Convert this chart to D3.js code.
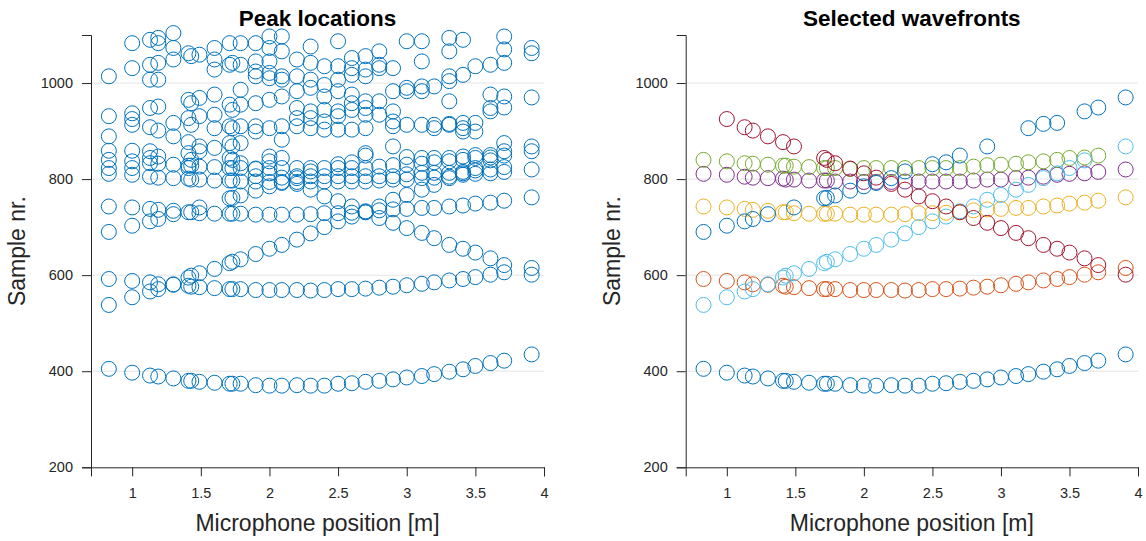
<!DOCTYPE html>
<html>
<head>
<meta charset="utf-8">
<script src="https://cdn.jsdelivr.net/npm/d3@7"></script>
<style>
  body { margin: 0; background: #fff; }
  svg { display: block; font-family: "Liberation Sans", Arial, sans-serif; }
</style>
</head>
<body>
<svg id="chart" width="1146" height="541"></svg>
<script>
// microphone positions [m]
const micPos = [0.83, 1.0, 1.13, 1.19, 1.3, 1.41, 1.43, 1.49, 1.6, 1.71, 1.73, 1.79, 1.9, 2.0, 2.09, 2.2,
  2.3, 2.4, 2.5, 2.6, 2.7, 2.8, 2.9, 3.0, 3.11, 3.2, 3.31, 3.41, 3.5, 3.61, 3.71, 3.91];

// selected wavefronts (sample nr. per microphone, null = no peak)
const wfBlue = [405, 397, 391, 389, 385, 380, 380, 378, 376, 374, 374, 374, 371, 370, 370, 371,
  370, 370, 374, 375, 378, 380, 383, 387, 390, 394, 399, 404, 411, 417, 422, 435];
const wfOrange = [592, 588, 585, 581, 580, 578, 576, 575, 573, 571, 571, 571, 569, 569, 569, 569,
  568, 569, 571, 571, 572, 574, 576, 579, 582, 585, 589, 592, 596, 601, 606, 615];
const wfYellow = [743, 741, 738, 736, 734, 731, 731, 729, 728, 728, 728, 728, 726, 726, 726, 726,
  727, 729, 729, 730, 731, 735, 737, 738, 740, 740, 743, 745, 749, 751, 755, 762];
const wfPurple = [811, 809, 805, 803, 802, 801, 799, 799, 797, 797, 797, 795, 795, 794, 794, 794,
  795, 795, 795, 795, 795, 797, 799, 799, 802, 803, 805, 809, 811, 812, 815, 820];
const wfGreen = [840, 837, 833, 832, 830, 828, 828, 826, 825, 823, 823, 823, 821, 823, 823, 823,
  823, 823, 823, 823, 823, 826, 829, 830, 832, 835, 837, 840, 844, 845, 849, null];
const wfLightBlue = [538, 554, 566, 571, 581, 595, 599, 604, 613, 625, 628, 633, 644, 655, 663, 674,
  687, 700, 712, 722, 733, 743, 757, 767, 778, 788, 802, 812, 823, 839, null, 868];
const wfRed = [null, 925, 908, 901, 889, 877, null, 868, null, 844, 840, 833, 822, 812, 803, 790,
  778, 764, 754, 743, 731, 719, 709, 698, 688, 677, 663, 655, 647, 635, 621, 601];
const wfBlue2 = [690, 703, 712, 717, 727, null, null, 741, null, 760, 761, 766, 776, 785, 792, 802,
  816, null, 831, 835, 849, null, 868, null, null, 906, 915, 917, null, 941, 949, 970];

const wavefronts = [wfBlue, wfOrange, wfYellow, wfPurple, wfGreen, wfLightBlue, wfRed, wfBlue2];
const wfColors = ["#0072BD", "#D95319", "#EDB120", "#7E2F8E", "#77AC30", "#4DBEEE", "#A2142F", "#0072BD"];

// other detected peaks per microphone (not part of a selected wavefront)
const otherPeaks = [
  [1014, 931, 889, 859, 823],
  [1083, 1031, 937, 913, 859, 823],
  [1090, 1038, 1007, 948, 858, 844],
  [1094, 1083, 1042, 1007, 951, 847],
  [1104, 1073, 1049, 917],
  [1062, 965, 927, 854, 823],
  [1056, 958, 913, 840],
  [1059, 969, 931, 858],
  [1073, 1049, 1028, 976, 934, 906, 865],
  [1083, 1038, 955, 910, 875],
  [1042, 944, 906, 868],
  [1083, 1038, 986, 955, 910, 875],
  [1083, 1045, 1024, 1014, 958, 910, 899, 806],
  [1097, 1073, 1045, 1021, 1010, 965, 906, 847, 837],
  [1097, 1066, 1014, 1007, 972, 910, 882, 844],
  [1049, 1014, 983, 948, 927, 910, 806],
  [1076, 1042, 1007, 990, 941, 927, 906, 806],
  [1035, 996, 972, 944, 920, 903, 806],
  [1087, 1035, 1007, 983, 941, 931, 903, 806],
  [1052, 1031, 1017, 976, 958, 944, 903, 806],
  [1056, 1028, 1014, 962, 948, 934, 906, 854, 806],
  [1066, 1038, 1031, 962, 934, 806],
  [1031, 983, 941, 920, 910, 806],
  [1087, 990, 983, 913, 846, 810],
  [1087, 1045, 993, 983, 913, 844, 813],
  [993, 913, 844, 813],
  [1094, 1066, 1014, 1004, 962, 913, 844, 813],
  [1090, 1017, 906, 899, 847, 815],
  [1035, 917, 899, 850, 818],
  [1038, 976, 948, 850, 820],
  [1097, 1070, 1042, 972, 875, 858, 825],
  [1073, 1062, 858]
];

const xMajor = [1, 1.5, 2, 2.5, 3, 3.5, 4];
const yMajor = [200, 400, 600, 800, 1000];
const gridLines = [400, 600, 800, 1000];

const svg = d3.select("#chart");
const axisColor = "#262626";
const plotTop = 35, plotBottom = 467.3;

const x0 = d3.scaleLinear().domain([0.7, 4]).range([91, 544]);
const x1 = d3.scaleLinear().domain([0.7, 4]).range([685.7, 1138]);
const y = d3.scaleLinear().domain([200, 1100]).range([plotBottom, plotTop]);

function drawAxes(x, title) {
  const g = svg.append("g");
  // grid
  g.selectAll(".grid").data(gridLines).join("line")
    .attr("x1", x.range()[0]).attr("x2", x.range()[1])
    .attr("y1", d => y(d)).attr("y2", d => y(d))
    .attr("stroke", "#e3e3e3").attr("stroke-width", 1);

  const xMinor = d3.range(7, 41).map(d => d / 10);
  const yMinor = d3.range(200, 1101, 50);

  const gx = g.append("g").attr("transform", `translate(0,${plotBottom})`);
  gx.call(d3.axisBottom(x).tickValues(xMinor).tickSize(4).tickFormat(""));
  gx.call(d3.axisBottom(x).tickValues(xMajor).tickSize(9).tickPadding(11).tickFormat(d => d));
  const gy = g.append("g").attr("transform", `translate(${x.range()[0]},0)`);
  gy.call(d3.axisLeft(y).tickValues(yMinor).tickSize(4).tickFormat(""));
  gy.call(d3.axisLeft(y).tickValues(yMajor).tickSize(9).tickPadding(9).tickFormat(d => d));

  g.selectAll(".domain").attr("stroke", axisColor);
  g.selectAll(".tick line").attr("stroke", axisColor);
  g.selectAll(".tick text").attr("fill", axisColor).style("font-size", "14.5px");

  const cx = (x.range()[0] + x.range()[1]) / 2;
  g.append("text").attr("x", cx).attr("y", 26).attr("text-anchor", "middle")
    .style("font-size", "22.5px").style("font-weight", "bold").attr("fill", "#000").text(title);
  g.append("text").attr("x", cx).attr("y", 531).attr("text-anchor", "middle")
    .style("font-size", "23px").attr("fill", axisColor).text("Microphone position [m]");
  g.append("text")
    .attr("transform", `translate(${x.range()[0] - 66},${(plotTop + plotBottom) / 2}) rotate(-90)`)
    .attr("text-anchor", "middle")
    .style("font-size", "23px").attr("fill", axisColor).text("Sample nr.");
}

drawAxes(x0, "Peak locations");
drawAxes(x1, "Selected wavefronts");

const r = 7.5;

// left: every detected peak
const allPeaks = [];
micPos.forEach((p, i) => {
  wavefronts.forEach(wf => { if (wf[i] != null) allPeaks.push([p, wf[i]]); });
  otherPeaks[i].forEach(v => allPeaks.push([p, v]));
});
svg.append("g").selectAll("circle").data(allPeaks).join("circle")
  .attr("cx", d => x0(d[0])).attr("cy", d => y(d[1])).attr("r", r)
  .attr("fill", "none").attr("stroke", "#0072BD").attr("stroke-width", 1);

// right: selected wavefronts
wavefronts.forEach((wf, k) => {
  const pts = micPos.map((p, i) => [p, wf[i]]).filter(d => d[1] != null);
  svg.append("g").selectAll("circle").data(pts).join("circle")
    .attr("cx", d => x1(d[0])).attr("cy", d => y(d[1])).attr("r", r)
    .attr("fill", "none").attr("stroke", wfColors[k]).attr("stroke-width", 1);
});
</script>
</body>
</html>
